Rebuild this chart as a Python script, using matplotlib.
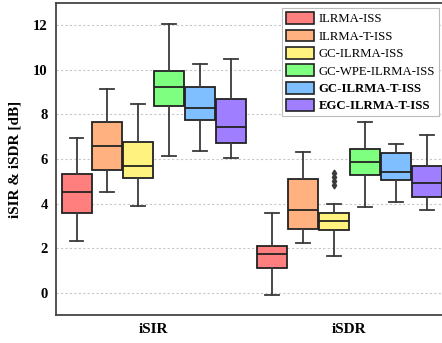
import matplotlib
matplotlib.use("Agg")
import matplotlib.pyplot as plt
from matplotlib.patches import Patch

methods = ["ILRMA-ISS", "ILRMA-T-ISS", "GC-ILRMA-ISS", "GC-WPE-ILRMA-ISS",
           "GC-ILRMA-T-ISS", "EGC-ILRMA-T-ISS"]
metrics = ["iSIR", "iSDR"]
colors = ["#ff7f7f", "#ffb27f", "#fff27f", "#7fff7f", "#7fbfff", "#9f7fff"]

# (whislo, q1, med, q3, whishi) per method
isir_stats = [
    (2.34, 3.58, 4.52, 5.31, 6.94),
    (4.52, 5.51, 6.60, 7.66, 9.12),
    (3.90, 5.15, 5.67, 6.75, 8.49),
    (6.15, 8.36, 9.24, 9.94, 12.06),
    (6.34, 7.76, 8.31, 9.22, 10.25),
    (6.05, 6.70, 7.43, 8.69, 10.48),
]
isdr_stats = [
    (-0.09, 1.09, 1.72, 2.09, 3.56),
    (2.22, 2.88, 3.70, 5.12, 6.30),
    (1.66, 2.80, 3.21, 3.56, 4.00),
    (3.85, 5.28, 5.87, 6.45, 7.67),
    (4.06, 5.04, 5.43, 6.27, 6.69),
    (3.72, 4.31, 4.91, 5.69, 7.10),
]
isdr_fliers = [[], [], [5.37, 5.19, 5.01, 4.84], [], [], []]

plt.rcParams['font.family'] = ['Liberation Serif', 'DejaVu Serif']

fig = plt.figure(figsize=(4.42, 3.43), dpi=100)
ax = fig.add_axes([0.1267, 0.0816, 0.885, 0.9096])

width = 0.158
edge = "#222222"
wcol = "#3a3a3a"

for g, stats_set in enumerate([isir_stats, isdr_stats]):
    for i, s in enumerate(stats_set):
        fl = isdr_fliers[i] if g == 1 else []
        st = dict(whislo=s[0], q1=s[1], med=s[2], q3=s[3], whishi=s[4], fliers=fl)
        pos = g + (i - 2.5) * width
        ax.bxp([st], positions=[pos], widths=width * 0.97, patch_artist=True,
               boxprops=dict(facecolor=colors[i], edgecolor=edge, linewidth=1.3),
               medianprops=dict(color=edge, linewidth=1.3),
               whiskerprops=dict(color=wcol, linewidth=1.3),
               capprops=dict(color=wcol, linewidth=1.3),
               capwidths=width * 0.45,
               flierprops=dict(marker='d', markersize=3.5, markerfacecolor=wcol,
                               markeredgecolor=wcol),
               zorder=3)

ax.set_xlim(-0.5, 1.5)
ax.set_ylim(-1, 13)
ax.set_xticks([0, 1])
ax.set_xticklabels(metrics, fontsize=11, fontweight='bold')
ax.set_yticks([0, 2, 4, 6, 8, 10, 12])
ax.set_yticklabels(["0", "2", "4", "6", "8", "10", "12"], fontsize=10.5, fontweight='bold')
ax.set_ylabel("iSIR & iSDR [dB]", fontsize=11, fontweight='bold', labelpad=8)
ax.tick_params(length=0, pad=6)
ax.yaxis.grid(True, linestyle=(0, (2, 2)), color="#c8c8c8", linewidth=0.8)
ax.set_axisbelow(True)
for sp in ax.spines.values():
    sp.set_color("#444444")
    sp.set_linewidth(1.3)
ax.spines['right'].set_visible(False)

handles = [Patch(facecolor=c, edgecolor=edge, linewidth=1.2) for c in colors]
leg = ax.legend(handles, methods, loc='upper left', bbox_to_anchor=(0.577, 0.983),
                fontsize=9.2, frameon=True, fancybox=False, framealpha=1,
                edgecolor="#bbbbbb", handlelength=2.2, handleheight=1.05,
                labelspacing=0.32, handletextpad=0.4, borderpad=0.3, borderaxespad=0.0)
for t in leg.get_texts()[4:]:
    t.set_fontweight('bold')
leg.get_frame().set_linewidth(0.8)

fig.savefig("out.png", dpi=100)
